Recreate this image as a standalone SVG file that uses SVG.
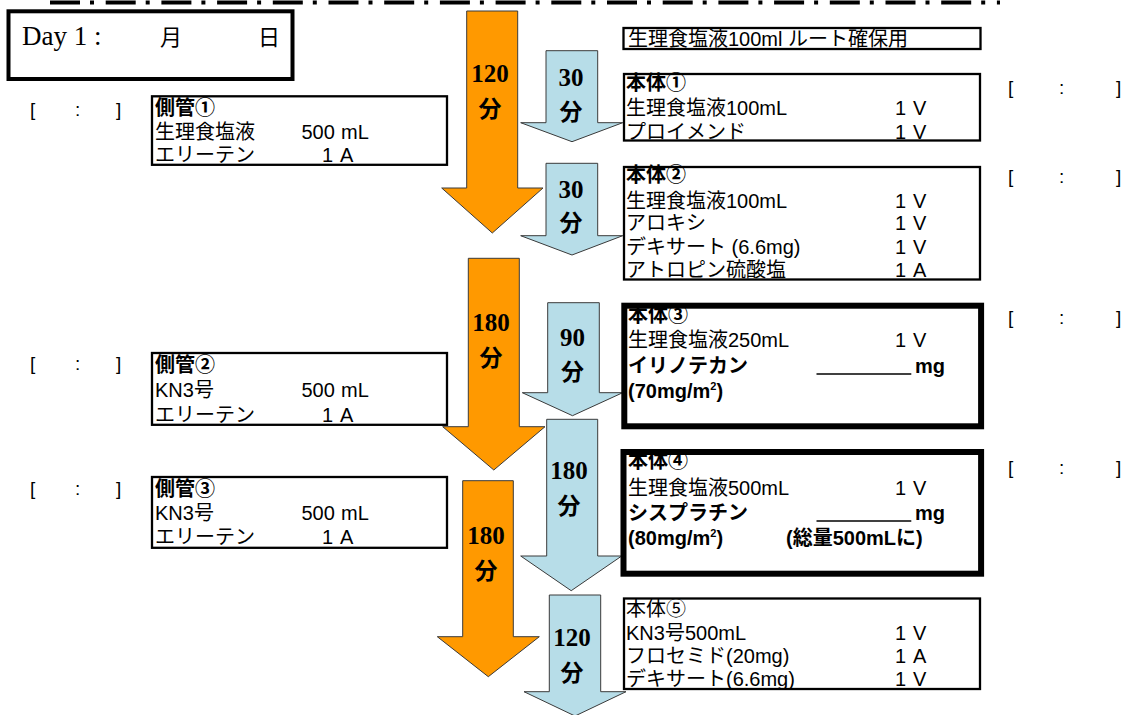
<svg xmlns="http://www.w3.org/2000/svg" width="1125" height="715" viewBox="0 0 1125 715">
<style>
.t{font-family:"Liberation Sans","Noto Sans CJK JP",sans-serif;font-size:20px;fill:#000}
.b{font-weight:bold}
.ts{font-family:"Liberation Sans","Noto Sans CJK JP",sans-serif;font-size:19px;fill:#000}
.num{font-family:"Liberation Serif",serif;font-weight:bold;font-size:25px;text-anchor:middle;fill:#000}
.fun{font-family:"Noto Sans CJK JP",sans-serif;font-weight:bold;font-size:23px;text-anchor:middle;fill:#000}
.box{fill:#fff;stroke:#000;stroke-width:2.3}
.thick{fill:#fff;stroke:#000;stroke-width:6}
.orange{fill:#FF9900;stroke:#3a3a3a;stroke-width:1}
.blue{fill:#B7DDE8;stroke:#3a3a3a;stroke-width:1}
.ul{stroke:#000;stroke-width:1.5}
</style>
<rect width="1125" height="715" fill="#fff"/>
<line x1="50" y1="2.5" x2="1000" y2="2.5" stroke="#000" stroke-width="4" stroke-dasharray="30 10 4 11.7"/>

<g id="day">
<rect x="8.5" y="11.3" width="284" height="67.7" fill="#fff" stroke="#000" stroke-width="4"/>
<text x="22" y="45" style="font-family:'Liberation Serif',serif;font-size:27px">Day 1 :</text>
<text x="160" y="45" style="font-family:'Noto Sans CJK JP',sans-serif;font-size:22px">月</text>
<text x="258" y="45" style="font-family:'Noto Sans CJK JP',sans-serif;font-size:22px">日</text>
</g>

<g id="connectors">
<g id="arrow-side1">
<path class="orange" d="M466.7,11 L517.7,11 L517.7,188 L543,188 L492.3,233 L441.7,188 L466.7,188 Z"/>
<text class="num" x="490" y="82">120</text>
<text class="fun" x="490" y="117">分</text>
</g>
<g id="arrow-main1">
<path class="blue" d="M546,50.7 L597.7,50.7 L597.7,122.7 L622.7,122.7 L572,141.7 L520.7,122.7 L546,122.7 Z"/>
<text class="num" x="571" y="86">30</text>
<text class="fun" x="571" y="120">分</text>
</g>
<g id="arrow-main2">
<path class="blue" d="M546,163.3 L597.7,163.3 L597.7,235.7 L622.7,235.7 L572,255 L520.7,235.7 L546,235.7 Z"/>
<text class="num" x="571" y="198">30</text>
<text class="fun" x="571" y="231">分</text>
</g>
<g id="arrow-side2">
<path class="orange" d="M468.3,258.3 L519.3,258.3 L519.3,426.7 L545,426.7 L493.8,470 L442.7,426.7 L468.3,426.7 Z"/>
<text class="num" x="491" y="330.5">180</text>
<text class="fun" x="491" y="366">分</text>
</g>
<g id="arrow-main3">
<path class="blue" d="M547.7,302.7 L599.3,302.7 L599.3,392.7 L622.7,392.7 L572.5,415.7 L522.3,392.7 L547.7,392.7 Z"/>
<text class="num" x="572.5" y="345.5">90</text>
<text class="fun" x="572.5" y="380">分</text>
</g>
<g id="arrow-main4">
<path class="blue" d="M546.7,419.3 L597.7,419.3 L597.7,556 L621.7,556 L571.2,590.7 L520.7,556 L546.7,556 Z"/>
<text class="num" x="569" y="479">180</text>
<text class="fun" x="569" y="513.5">分</text>
</g>
<g id="arrow-side3">
<path class="orange" d="M462.7,480.7 L513.3,480.7 L513.3,636.7 L539.3,636.7 L488.3,676.7 L437.3,636.7 L462.7,636.7 Z"/>
<text class="num" x="486" y="544">180</text>
<text class="fun" x="486" y="578.5">分</text>
</g>
<g id="arrow-main5">
<path class="blue" d="M549.3,595 L600.7,595 L600.7,691.7 L626,691.7 L575,716 L524,691.7 L549.3,691.7 Z"/>
<text class="num" x="572" y="645.5">120</text>
<text class="fun" x="572" y="681">分</text>
</g>
</g>

<g id="route">
<rect class="box" x="623.5" y="28" width="357" height="21"/>
<text class="t" x="628" y="46">生理食塩液100ml  ルート確保用</text>
</g>

<g id="side1">
<rect class="box" x="152" y="96.3" width="295" height="68.5"/>
<text class="t b" x="155" y="114.5">側管①</text>
<text class="t" x="155" y="138.5">生理食塩液</text>
<text class="t" x="301.5" y="138.5">500</text><text class="t" x="341" y="138.5">mL</text>
<text class="t" x="155" y="162">エリーテン</text>
<text class="t" x="322" y="162">1</text><text class="t" x="340" y="162">A</text>
</g>

<g id="side2">
<rect class="box" x="152" y="353" width="295" height="71.8"/>
<text class="t b" x="155" y="372">側管②</text>
<text class="t" x="155" y="397">KN3号</text>
<text class="t" x="301.5" y="397">500</text><text class="t" x="341" y="397">mL</text>
<text class="t" x="155" y="421.5">エリーテン</text>
<text class="t" x="322" y="421.5">1</text><text class="t" x="340" y="421.5">A</text>
</g>

<g id="side3">
<rect class="box" x="152" y="477" width="295" height="70.8"/>
<text class="t b" x="155" y="496">側管③</text>
<text class="t" x="155" y="519.5">KN3号</text>
<text class="t" x="301.5" y="519.5">500</text><text class="t" x="341" y="519.5">mL</text>
<text class="t" x="155" y="544">エリーテン</text>
<text class="t" x="322" y="544">1</text><text class="t" x="340" y="544">A</text>
</g>

<g id="main1">
<rect class="box" x="624" y="74" width="356" height="66.5"/>
<text class="t b" x="626" y="90">本体①</text>
<text class="t" x="626" y="115">生理食塩液100mL</text>
<text class="t" x="895" y="115">1</text><text class="t" x="913" y="115">V</text>
<text class="t" x="626" y="138.5">プロイメンド</text>
<text class="t" x="895" y="138.5">1</text><text class="t" x="913" y="138.5">V</text>
</g>

<g id="main2">
<rect class="box" x="624" y="167" width="356" height="112.5"/>
<text class="t b" x="626" y="182">本体②</text>
<text class="t" x="626" y="207.5">生理食塩液100mL</text>
<text class="t" x="895" y="207.5">1</text><text class="t" x="913" y="207.5">V</text>
<text class="t" x="626" y="230">アロキシ</text>
<text class="t" x="895" y="230">1</text><text class="t" x="913" y="230">V</text>
<text class="t" x="626" y="253.5">デキサート (6.6mg)</text>
<text class="t" x="895" y="253.5">1</text><text class="t" x="913" y="253.5">V</text>
<text class="t" x="626" y="277">アトロピン硫酸塩</text>
<text class="t" x="895" y="277">1</text><text class="t" x="913" y="277">A</text>
</g>

<g id="main3">
<rect class="thick" x="624.3" y="305.7" width="356.8" height="120.6"/>
<text class="t b" x="628" y="322">本体③</text>
<text class="t" x="628" y="347">生理食塩液250mL</text>
<text class="t" x="895" y="347">1</text><text class="t" x="913" y="347">V</text>
<text class="t b" x="628" y="372.5">イリノテカン</text>
<line class="ul" x1="816.5" y1="374" x2="911.3" y2="374"/>
<text class="t b" x="915" y="372.5">mg</text>
<text class="t b" x="628" y="398">(70mg/m<tspan font-size="11" dy="-8">2</tspan><tspan dy="8">)</tspan></text>
</g>

<g id="main4">
<rect class="thick" x="623.5" y="452" width="357.6" height="121.7"/>
<text class="t b" x="628" y="467.5">本体④</text>
<text class="t" x="628" y="494.5">生理食塩液500mL</text>
<text class="t" x="895" y="494.5">1</text><text class="t" x="913" y="494.5">V</text>
<text class="t b" x="628" y="519.5">シスプラチン</text>
<line class="ul" x1="816.5" y1="521" x2="911.3" y2="521"/>
<text class="t b" x="915" y="519.5">mg</text>
<text class="t b" x="628" y="545">(80mg/m<tspan font-size="11" dy="-8">2</tspan><tspan dy="8">)</tspan></text>
<text class="t b" x="786" y="545">(総量500mLに)</text>
</g>

<g id="main5">
<rect class="box" x="624" y="598.5" width="356" height="90.5"/>
<text class="t" x="626" y="616">本体⑤</text>
<text class="t" x="626" y="640">KN3号500mL</text>
<text class="t" x="895" y="640">1</text><text class="t" x="913" y="640">V</text>
<text class="t" x="626" y="663">フロセミド(20mg)</text>
<text class="t" x="895" y="663">1</text><text class="t" x="913" y="663">A</text>
<text class="t" x="626" y="686">デキサート(6.6mg)</text>
<text class="t" x="895" y="686">1</text><text class="t" x="913" y="686">V</text>
</g>

<g id="times">
<text class="ts" x="30" y="116">[</text><text class="ts" x="75" y="116">:</text><text class="ts" x="116" y="116">]</text>
<text class="ts" x="30" y="370">[</text><text class="ts" x="75" y="370">:</text><text class="ts" x="116" y="370">]</text>
<text class="ts" x="30" y="495">[</text><text class="ts" x="75" y="495">:</text><text class="ts" x="116" y="495">]</text>
<text class="ts" x="1008" y="94">[</text><text class="ts" x="1059" y="94">:</text><text class="ts" x="1116" y="94">]</text>
<text class="ts" x="1008" y="183">[</text><text class="ts" x="1059" y="183">:</text><text class="ts" x="1116" y="183">]</text>
<text class="ts" x="1008" y="324">[</text><text class="ts" x="1059" y="324">:</text><text class="ts" x="1116" y="324">]</text>
<text class="ts" x="1008" y="474">[</text><text class="ts" x="1059" y="474">:</text><text class="ts" x="1116" y="474">]</text>
</g>
</svg>
